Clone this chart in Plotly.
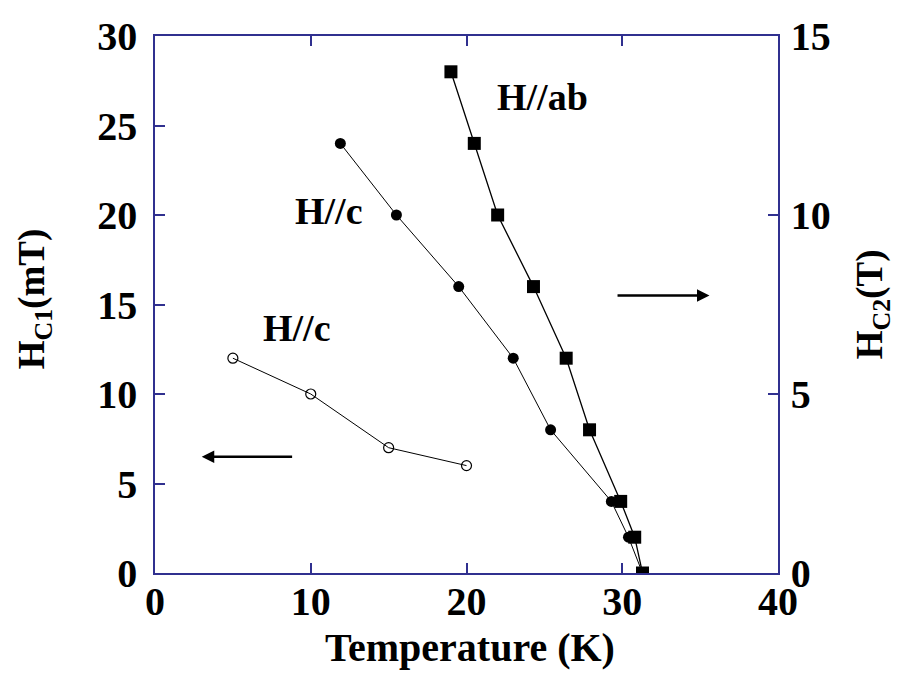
import plotly.graph_objects as go

# H//c, lower critical field Hc1 (mT), left axis
t_hc1 = [5, 10, 15, 20]
hc1_c = [12, 10, 7, 6]

# H//c, upper critical field Hc2 (T), right axis
t_hc2_c = [11.9, 15.5, 19.5, 23.0, 25.4, 29.3, 30.4, 31.3]
hc2_c = [12, 10, 8, 6, 4, 2, 1, 0]

# H//ab, upper critical field Hc2 (T), right axis
t_hc2_ab = [19.0, 20.5, 22.0, 24.3, 26.4, 27.9, 29.9, 30.8, 31.3]
hc2_ab = [14, 12, 10, 8, 6, 4, 2, 1, 0]

AXIS = "#30308f"
FONT = "Liberation Serif"


def bold(size):
    return dict(family=FONT, size=size, color="black", weight="bold")


fig = go.Figure()
fig.add_trace(go.Scatter(x=t_hc1, y=hc1_c, mode="lines+markers",
                         line=dict(color="black", width=1),
                         marker=dict(symbol="circle-open", size=10, color="black",
                                     line=dict(width=1.2))))
fig.add_trace(go.Scatter(x=t_hc2_c, y=hc2_c, yaxis="y2", mode="lines+markers",
                         line=dict(color="black", width=1),
                         marker=dict(symbol="circle", size=11, color="black")))
fig.add_trace(go.Scatter(x=t_hc2_ab, y=hc2_ab, yaxis="y2", mode="lines+markers",
                         line=dict(color="black", width=1.3),
                         marker=dict(symbol="square", size=13, color="black")))

axis_common = dict(showgrid=False, zeroline=False, showline=True, linecolor=AXIS,
                   linewidth=1.5, ticks="inside", ticklen=10, tickcolor=AXIS,
                   tickwidth=1.5, tickfont=bold(40), automargin=False)

fig.update_layout(
    width=905, height=675, showlegend=False,
    plot_bgcolor="white", paper_bgcolor="white",
    margin=dict(l=147, r=135, t=28, b=110),
    xaxis=dict(range=[0, 40], dtick=10, mirror="ticks", ticklabelstandoff=-8,
               **axis_common),
    yaxis=dict(range=[0, 30], dtick=5, ticklabelstandoff=8, **axis_common),
    yaxis2=dict(range=[0, 15], dtick=5, overlaying="y", side="right",
                ticklabelstandoff=3, **axis_common),
)

# axis titles
titles = [("Temperature (K)", 0.506, -0.138, 0, 40),
          ("H<sub>C1</sub>(mT)", -0.194, 0.51, -90, 37),
          ("H<sub>C2</sub>(T)", 1.152, 0.50, -90, 37)]
for text, x, y, angle, size in titles:
    fig.add_annotation(x=x, y=y, xref="paper", yref="paper", text=text, textangle=angle,
                       showarrow=False, xanchor="center", yanchor="middle", font=bold(size))

labels = [("H//ab", 24.9, 26.6), ("H//c", 11.2, 20.2), ("H//c", 9.1, 13.7)]
for text, x, y in labels:
    fig.add_annotation(x=x, y=y, text=text, showarrow=False, font=bold(38))

# arrows pointing to the axis each curve belongs to
arrows = [((8.9, 6.5), (3.0, 6.5)), ((29.6, 15.5), (35.6, 15.5))]
for (x0, y0), (x1, y1) in arrows:
    fig.add_annotation(x=x1, y=y1, ax=x0, ay=y0, xref="x", yref="y", axref="x", ayref="y",
                       text="", showarrow=True, arrowhead=2, arrowsize=1,
                       arrowwidth=2.5, arrowcolor="black")

fig.write_html("out.html")
